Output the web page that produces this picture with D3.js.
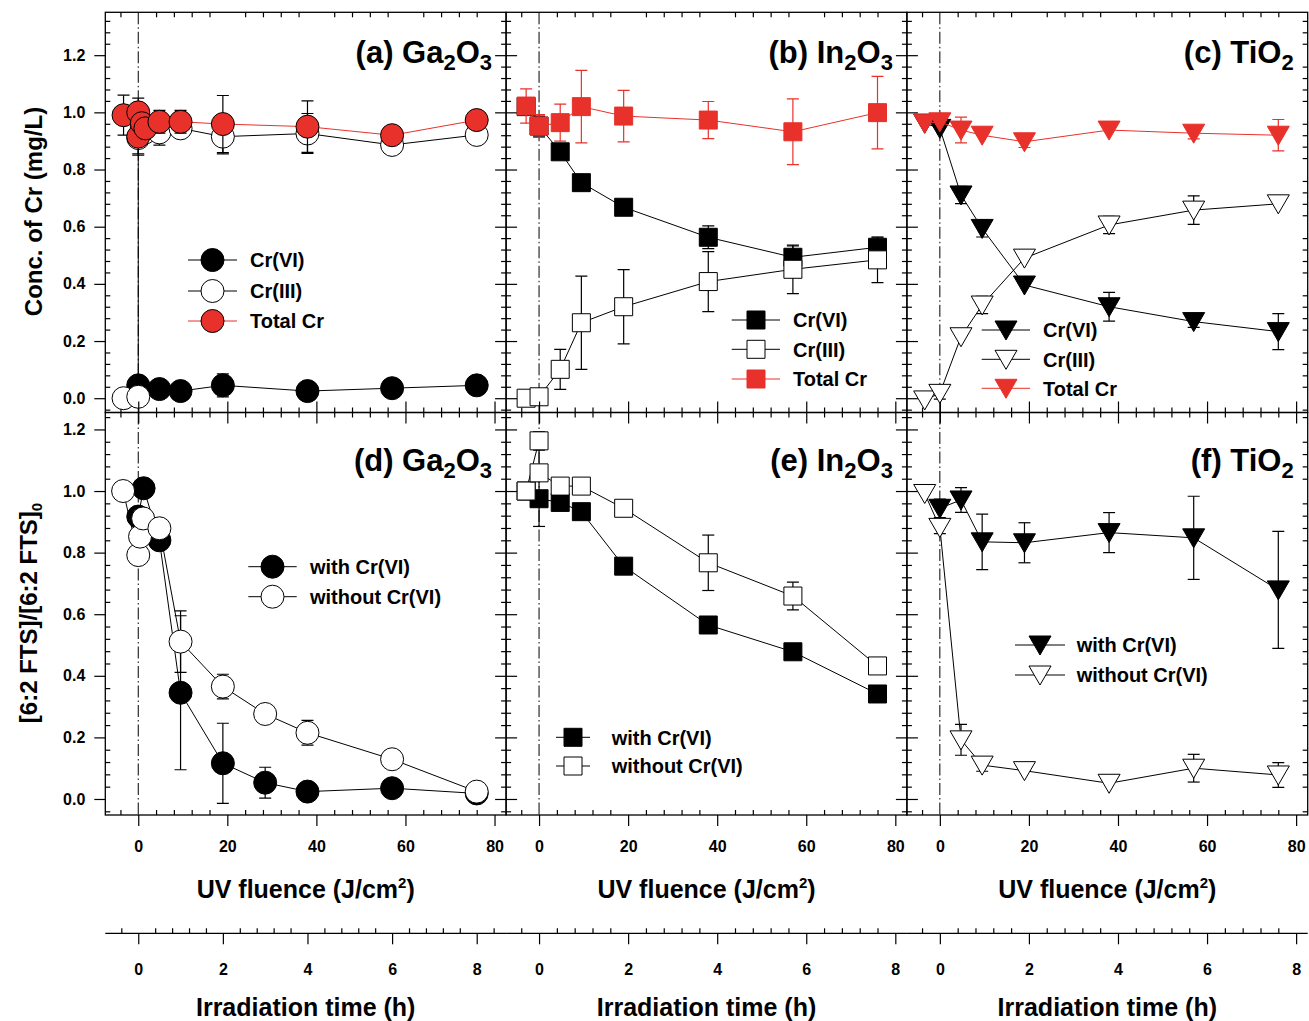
<!DOCTYPE html>
<html><head><meta charset="utf-8">
<script src="https://cdn.jsdelivr.net/npm/d3@7/dist/d3.min.js"></script>
<style>
body{margin:0;background:#fff}
text{font-family:"Liberation Sans",Arial,sans-serif;font-weight:bold;fill:#000}
</style>
</head><body>
<svg id="chart" width="1309" height="1021"></svg>
<script>
// ---------------- DATA ----------------
// (a) Ga2O3 : Cr species (mg/L) vs UV fluence (J/cm2)
const aCr6X = [0, 4.75, 9.5, 19, 38, 57, 76];
const aCr6Y = [0.045, 0.032, 0.025, 0.045, 0.025, 0.035, 0.045];
const aCr6E = [0, 0, 0, 0.04, 0, 0, 0];
const aCr3X = [-3.3, 0, 0, 0.8, 1.6, 4.75, 9.5, 19, 38, 57, 76];
const aCr3Y = [0.0, 0.005, 0.91, 0.95, 0.93, 0.93, 0.944, 0.915, 0.926, 0.886, 0.921];
const aCr3E = [0, 0, 0.06, 0, 0, 0.045, 0.03, 0.06, 0.07, 0, 0];
const aTotX = [-3.3, 0, 0, 0.8, 1.6, 4.75, 9.5, 19, 38, 57, 76];
const aTotY = [0.99, 1.0, 0.915, 0.962, 0.944, 0.967, 0.967, 0.959, 0.95, 0.92, 0.973];
const aTotE = [0.07, 0.05, 0.06, 0, 0, 0.04, 0.04, 0.1, 0.09, 0, 0];

// (b) In2O3
const bX    = [-2.9, 0, 4.75, 9.5, 19, 38, 57, 76];
const bCr6Y = [1.02, 0.952, 0.862, 0.754, 0.668, 0.563, 0.493, 0.528];
const bCr6E = [0, 0.035, 0, 0, 0.02, 0.04, 0.04, 0.035];
const bCr3Y = [0.0, 0.005, 0.101, 0.264, 0.32, 0.408, 0.451, 0.484];
const bCr3E = [0, 0, 0.07, 0.163, 0.13, 0.105, 0.085, 0.08];
const bTotY = [1.022, 0.952, 0.964, 1.02, 0.987, 0.973, 0.932, 0.999];
const bTotE = [0.06, 0.04, 0.065, 0.127, 0.09, 0.065, 0.115, 0.127];

// (c) TiO2
const cX    = [-3.4, 0, 4.75, 9.5, 19, 38, 57, 76];
const cCr6Y = [0.962, 0.944, 0.711, 0.594, 0.396, 0.32, 0.268, 0.233];
const cCr6E = [0, 0, 0.03, 0.03, 0, 0.05, 0.02, 0.063];
const cCr3Y = [-0.006, 0.017, 0.215, 0.326, 0.49, 0.606, 0.658, 0.68];
const cCr3E = [0, 0.02, 0, 0.03, 0, 0.03, 0.05, 0];
const cTotY = [0.962, 0.967, 0.938, 0.92, 0.897, 0.938, 0.927, 0.92];
const cTotE = [0, 0, 0.045, 0, 0.02, 0, 0.02, 0.055];

// (d) Ga2O3 : [6:2 FTS]/[6:2 FTS]0
const dWithX = [0, 1.2, 4.75, 9.5, 19, 28.5, 38, 57, 76];
const dWithY = [0.917, 1.009, 0.84, 0.345, 0.116, 0.053, 0.024, 0.035, 0.018];
const dWithE = [0, 0, 0, 0.25, 0.13, 0.05, 0, 0, 0];
const dWoX   = [-3.4, 0, 0.4, 1.1, 4.75, 9.5, 19, 28.5, 38, 57, 76];
const dWoY   = [1.0, 0.792, 0.852, 0.911, 0.879, 0.511, 0.365, 0.276, 0.215, 0.129, 0.024];
const dWoE   = [0, 0, 0, 0, 0, 0.1, 0.04, 0, 0.04, 0, 0];

// (e) In2O3
const eWithX = [-2.9, 0, 4.75, 9.5, 19, 38, 57, 76];
const eWithY = [1.0, 0.975, 0.963, 0.933, 0.756, 0.565, 0.478, 0.341];
const eWithE = [0, 0.09, 0, 0, 0, 0, 0, 0];
const eWoX   = [-2.9, 0, 0, 4.75, 9.5, 19, 38, 57, 76];
const eWoY   = [1.0, 1.163, 1.059, 1.016, 1.016, 0.944, 0.767, 0.659, 0.432];
const eWoE   = [0, 0.03, 0, 0, 0, 0, 0.09, 0.045, 0.02];

// (f) TiO2
const fWithX = [0, 4.75, 9.5, 19, 38, 57, 76];
const fWithY = [0.944, 0.971, 0.835, 0.832, 0.865, 0.848, 0.679];
const fWithE = [0.03, 0.04, 0.09, 0.065, 0.065, 0.135, 0.19];
const fWoX   = [-3.4, 0, 4.75, 9.5, 19, 38, 57, 76];
const fWoY   = [0.992, 0.882, 0.192, 0.11, 0.092, 0.051, 0.1, 0.078];
const fWoE   = [0, 0.02, 0.05, 0.02, 0, 0, 0.045, 0.04];

// axes / ticks / labels
const fluenceDomain = [-7.4, 82.6];
const fluenceTicks = [0, 20, 40, 60, 80];
const timeTicks = [0, 2, 4, 6, 8];
const fluencePerHour = [9.5, 10, 10];          // per column, as drawn on the time axis
const concDomain = [-0.05, 1.35];
const ratioDomain = [-0.052, 1.255];
const yTicks = [0, 0.2, 0.4, 0.6, 0.8, 1.0, 1.2];
const panelLabels = [
  ["(a) Ga","2","O","3"], ["(b) In","2","O","3"], ["(c) TiO","2"],
  ["(d) Ga","2","O","3"], ["(e) In","2","O","3"], ["(f) TiO","2"]
];
const crNames = ["Cr(VI)", "Cr(III)", "Total Cr"];
const ftsNames = ["with Cr(VI)", "without Cr(VI)"];
const xTitle = ["UV fluence (J/cm", "2", ")"];
const timeTitle = "Irradiation time (h)";
const yTitleTop = "Conc. of Cr (mg/L)";
const yTitleBottom = ["[6:2 FTS]/[6:2 FTS]", "0"];

// ---------------- DRAW ----------------
const RED = "#e8312a";
const svg = d3.select("#chart");
svg.append("rect").attr("width", 1309).attr("height", 1021).attr("fill", "#fff");

const X0 = 105.3, PW = 400.8;
const rowTop = [12.3, 412.5], rowBot = [412.5, 815];
const xS = i => d3.scaleLinear().domain(fluenceDomain).range([X0 + i * PW, X0 + (i + 1) * PW]);
const yS = r => d3.scaleLinear().domain(r === 0 ? concDomain : ratioDomain).range([rowBot[r], rowTop[r]]);

const shapes = {
  circle: "M-11.5,0A11.5,11.5 0 1,0 11.5,0A11.5,11.5 0 1,0 -11.5,0Z",
  square: "M-9,-9H9V9H-9Z",
  tri: "M-11,-9L11,-9L0,10Z"
};

function S(xs, ys, es, shape, fill, stroke, line, err, name) {
  return {pts: xs.map((x, i) => ({x, y: ys[i], e: es[i]})), shape, fill, stroke, line, err, name};
}

const panels = [
  {col: 0, row: 0, series: [
    S(aCr6X, aCr6Y, aCr6E, "circle", "#000", "#000", "#000", "#000", crNames[0]),
    S(aCr3X, aCr3Y, aCr3E, "circle", "#fff", "#000", "#000", "#000", crNames[1]),
    S(aTotX, aTotY, aTotE, "circle", RED, "#000", RED, "#000", crNames[2])],
    leg: {x1: 188, x2: 237, mx: 212.5, tx: 250, ys: [260, 291, 321]}},
  {col: 1, row: 0, series: [
    S(bX, bCr6Y, bCr6E, "square", "#000", "#000", "#000", "#000", crNames[0]),
    S(bX, bCr3Y, bCr3E, "square", "#fff", "#000", "#000", "#000", crNames[1]),
    S(bX, bTotY, bTotE, "square", RED, RED, RED, RED, crNames[2])],
    leg: {x1: 731.7, x2: 780, mx: 756, tx: 793, ys: [320, 349.3, 379]}},
  {col: 2, row: 0, series: [
    S(cX, cCr6Y, cCr6E, "tri", "#000", "#000", "#000", "#000", crNames[0]),
    S(cX, cCr3Y, cCr3E, "tri", "#fff", "#000", "#000", "#000", crNames[1]),
    S(cX, cTotY, cTotE, "tri", RED, RED, RED, RED, crNames[2])],
    leg: {x1: 981.7, x2: 1030, mx: 1006, tx: 1043, ys: [330, 359.3, 388.3]}},
  {col: 0, row: 1, series: [
    S(dWithX, dWithY, dWithE, "circle", "#000", "#000", "#000", "#000", ftsNames[0]),
    S(dWoX, dWoY, dWoE, "circle", "#fff", "#000", "#000", "#000", ftsNames[1])],
    leg: {x1: 248.3, x2: 296.7, mx: 272.5, tx: 310, ys: [566.7, 596.7]}},
  {col: 1, row: 1, series: [
    S(eWithX, eWithY, eWithE, "square", "#000", "#000", "#000", "#000", ftsNames[0]),
    S(eWoX, eWoY, eWoE, "square", "#fff", "#000", "#000", "#000", ftsNames[1])],
    leg: {x1: 556, x2: 590, mx: 573, tx: 611.7, ys: [737.3, 766]}},
  {col: 2, row: 1, series: [
    S(fWithX, fWithY, fWithE, "tri", "#000", "#000", "#000", "#000", ftsNames[0]),
    S(fWoX, fWoY, fWoE, "tri", "#fff", "#000", "#000", "#000", ftsNames[1])],
    leg: {x1: 1015, x2: 1065, mx: 1040, tx: 1076.7, ys: [645, 675]}}
];

const fluenceMinor = d3.range(-8, 84, 4).filter(v => v % 20 !== 0 && v >= fluenceDomain[0] && v <= fluenceDomain[1]);
const yMinor = dom => d3.range(-8, 70).map(k => Math.round(k * 4) / 100).filter(v => Math.round(v * 100) % 20 !== 0 && v >= dom[0] && v <= dom[1]);

function styleAxis(g, size) {
  g.select(".domain").remove();
  g.attr("font-size", size || 16).attr("font-family", null);
  g.selectAll("line").attr("stroke", "#000").attr("stroke-width", 1.2);
  g.selectAll("text").attr("fill", "#000");
}

panels.forEach((p, pi) => {
  const x = xS(p.col), y = yS(p.row);
  const [xa, xb] = x.range(), [yb, ya] = y.range();
  const g = svg.append("g");
  const ym = yMinor(y.domain());
  // axes: major ticks outward, minor inward
  const bot = g.append("g").attr("transform", `translate(0,${yb})`);
  bot.append("g").call(d3.axisBottom(x).tickValues(fluenceTicks).tickSize(11).tickPadding(15)
      .tickFormat(p.row === 1 ? d3.format("d") : () => "")).call(styleAxis);
  bot.append("g").call(d3.axisBottom(x).tickValues(fluenceMinor).tickSize(-5).tickFormat(() => "")).call(styleAxis);
  const top = g.append("g").attr("transform", `translate(0,${ya})`);
  top.append("g").call(d3.axisTop(x).tickValues(fluenceTicks).tickSize(p.row === 0 ? 0 : 11).tickFormat(() => "")).call(styleAxis);
  top.append("g").call(d3.axisTop(x).tickValues(fluenceMinor).tickSize(-5).tickFormat(() => "")).call(styleAxis);
  const left = g.append("g").attr("transform", `translate(${xa},0)`);
  left.append("g").call(d3.axisLeft(y).tickValues(yTicks).tickSize(11).tickPadding(9)
      .tickFormat(p.col === 0 ? d3.format(".1f") : () => "")).call(styleAxis);
  left.append("g").call(d3.axisLeft(y).tickValues(ym).tickSize(-5).tickFormat(() => "")).call(styleAxis);
  const right = g.append("g").attr("transform", `translate(${xb},0)`);
  right.append("g").call(d3.axisRight(y).tickValues(yTicks).tickSize(p.col === 2 ? 0 : 11).tickFormat(() => "")).call(styleAxis);
  right.append("g").call(d3.axisRight(y).tickValues(ym).tickSize(-5).tickFormat(() => "")).call(styleAxis);
  g.append("rect").attr("x", xa).attr("y", ya).attr("width", xb - xa).attr("height", yb - ya)
    .attr("fill", "none").attr("stroke", "#000").attr("stroke-width", 1.3);

  // dash-dot line at fluence 0
  g.append("line").attr("x1", x(0)).attr("x2", x(0)).attr("y1", ya).attr("y2", yb)
    .attr("stroke", "#000").attr("stroke-width", 1).attr("stroke-dasharray", "12,3,1.5,3");

  // data
  const cid = "clip" + pi;
  svg.append("clipPath").attr("id", cid).append("rect")
    .attr("x", xa).attr("y", ya).attr("width", xb - xa).attr("height", yb - ya);
  const dg = g.append("g").attr("clip-path", `url(#${cid})`);
  const lineGen = d3.line().x(d => x(d.x)).y(d => y(d.y));
  p.series.forEach(s => {
    dg.append("path").attr("d", lineGen(s.pts)).attr("fill", "none").attr("stroke", s.line).attr("stroke-width", 1);
    const eb = dg.append("g").attr("stroke", s.err).attr("stroke-width", 1.2);
    s.pts.filter(d => d.e > 0).forEach(d => {
      const cx = x(d.x), y1 = y(d.y - d.e), y2 = y(d.y + d.e);
      eb.append("line").attr("x1", cx).attr("x2", cx).attr("y1", y1).attr("y2", y2);
      eb.append("line").attr("x1", cx - 6).attr("x2", cx + 6).attr("y1", y1).attr("y2", y1);
      eb.append("line").attr("x1", cx - 6).attr("x2", cx + 6).attr("y1", y2).attr("y2", y2);
    });
    dg.append("g").selectAll("path").data(s.pts).join("path")
      .attr("d", shapes[s.shape]).attr("transform", d => `translate(${x(d.x)},${y(d.y)})`)
      .attr("fill", s.fill).attr("stroke", s.stroke).attr("stroke-width", 1);
  });

  // legend
  const lg = g.append("g");
  p.series.forEach((s, k) => {
    const ly = p.leg.ys[k];
    lg.append("line").attr("x1", p.leg.x1).attr("x2", p.leg.x2).attr("y1", ly).attr("y2", ly)
      .attr("stroke", s.line).attr("stroke-width", 1);
    lg.append("path").attr("d", shapes[s.shape]).attr("transform", `translate(${p.leg.mx},${ly})`)
      .attr("fill", s.fill).attr("stroke", s.stroke).attr("stroke-width", 1);
    lg.append("text").attr("x", p.leg.tx).attr("y", ly).attr("dy", "0.36em").attr("font-size", 20).text(s.name);
  });

  // panel label with subscripts
  const parts = panelLabels[pi];
  const t = g.append("text").attr("x", xb - 14).attr("y", p.row === 0 ? 63 : 471)
    .attr("text-anchor", "end").attr("font-size", 31);
  let shift = 0;
  parts.forEach((txt, k) => {
    const sub = k % 2 === 1;
    const ts = t.append("tspan").text(txt);
    if (sub) { ts.attr("font-size", 22).attr("dy", 7); shift = 7; }
    else if (shift) { ts.attr("dy", -shift); shift = 0; }
  });
});

// fluence titles + time axes
for (let c = 0; c < 3; c++) {
  const x = xS(c);
  const [xa, xb] = x.range();
  const cx = (xa + xb) / 2;
  const tt = svg.append("text").attr("x", cx).attr("y", 898).attr("text-anchor", "middle").attr("font-size", 25);
  tt.append("tspan").text(xTitle[0]);
  tt.append("tspan").attr("font-size", 15).attr("dy", -10).text(xTitle[1]);
  tt.append("tspan").attr("dy", 10).text(xTitle[2]);

  const r = fluencePerHour[c];
  const t = d3.scaleLinear().domain([fluenceDomain[0] / r, fluenceDomain[1] / r]).range([xa, xb]);
  const tMinor = d3.range(-5, 25).map(k => Math.round(k * 4) / 10)
    .filter(v => Math.round(v * 10) % 20 !== 0 && v >= t.domain()[0] && v <= t.domain()[1]);
  const ta = svg.append("g").attr("transform", "translate(0,933.3)");
  ta.append("line").attr("x1", xa).attr("x2", xb).attr("stroke", "#000").attr("stroke-width", 1.3);
  ta.append("g").call(d3.axisBottom(t).tickValues(timeTicks).tickSize(11).tickPadding(19).tickFormat(d3.format("d"))).call(styleAxis);
  ta.append("g").call(d3.axisBottom(t).tickValues(tMinor).tickSize(-5).tickFormat(() => "")).call(styleAxis);
  svg.append("text").attr("x", cx).attr("y", 1016).attr("text-anchor", "middle").attr("font-size", 25).text(timeTitle);
}

// y titles
svg.append("text").attr("transform", "translate(41.5,211.5) rotate(-90)").attr("text-anchor", "middle")
  .attr("font-size", 24).text(yTitleTop);
const yb2 = svg.append("text").attr("transform", "translate(37,613) rotate(-90)").attr("text-anchor", "middle")
  .attr("font-size", 24);
yb2.append("tspan").text(yTitleBottom[0]);
yb2.append("tspan").attr("font-size", 15).attr("dy", 5).text(yTitleBottom[1]);
</script>
</body></html>
